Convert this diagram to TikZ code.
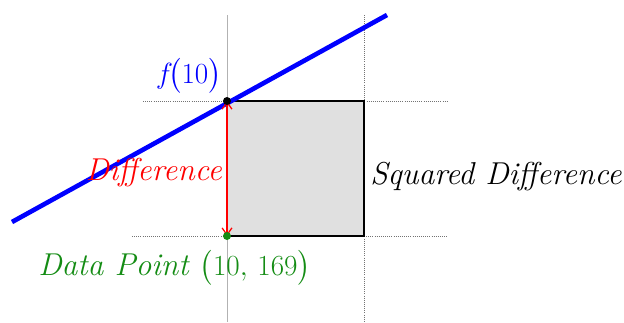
\documentclass[tikz,border=0pt]{standalone}
\usepackage{amsmath}
\usetikzlibrary{arrows.meta}
\definecolor{datagreen}{RGB}{20,140,20}
\definecolor{sqgray}{RGB}{224,224,224}
\newcommand{\lblfont}{\fontsize{22.5}{27}\selectfont}
\begin{document}
\begin{tikzpicture}[x=0.025cm,y=-0.025cm,
  guide/.style={densely dotted,gray!90!black,line width=0.5pt},
  axisline/.style={gray!60,line width=0.6pt}]
\useasboundingbox (0,0) rectangle (624,322);
% coordinates
\coordinate (F)  at (227,101);%
\coordinate (P)  at (227,236);%
\coordinate (Q)  at (364,101);%
\coordinate (R)  at (364,236);%
\coordinate (L0) at ( 12,222);%
\coordinate (L1) at (387, 15);%
\coordinate (VT) at (227, 15);%
\coordinate (VB) at (227,322);%
\coordinate (WT) at (364, 15);%
\coordinate (WB) at (364,322);%
\coordinate (HA) at (143,101);%
\coordinate (HB) at (448,101);%
\coordinate (HC) at (132,236);%
\coordinate (HD) at (448,236);%
% square
\fill[sqgray] (F) rectangle (R);
% gridlines
\draw[axisline] (VT) -- (VB);
\draw[guide] (WT) -- (WB);
\draw[guide] (HA) -- (HB);
\draw[guide] (HC) -- (HD);
\draw[black,line width=0.9pt] (F) -- (Q) -- (R) -- (P);
% fitted line
\draw[blue,line width=3.3pt] (L0) -- (L1);
% difference
\draw[red,line width=0.9pt,{Straight Barb[length=5pt,width=7pt]}-{Straight Barb[length=5pt,width=7pt]}] (F) -- (P);
% nodes
\fill (F) circle (4);
\fill[datagreen] (P) circle (4);
\node[blue,font=\lblfont,anchor=south east,inner sep=0pt] (fval) at (222,94) {$f\!\bigl(10\bigr)$};
\node[red,font=\lblfont,anchor=east,inner sep=0pt] (diff) at (222,173) {\itshape Difference};
\node[font=\lblfont,anchor=west,inner sep=0pt] (sqdiff) at (370,177) {\itshape Squared Difference};
\node[datagreen,font=\lblfont,anchor=west,inner sep=0pt] (dpt) at (38,268) {\itshape Data Point \upshape$\bigl(10,\,169\bigr)$};
\end{tikzpicture}
\end{document}
